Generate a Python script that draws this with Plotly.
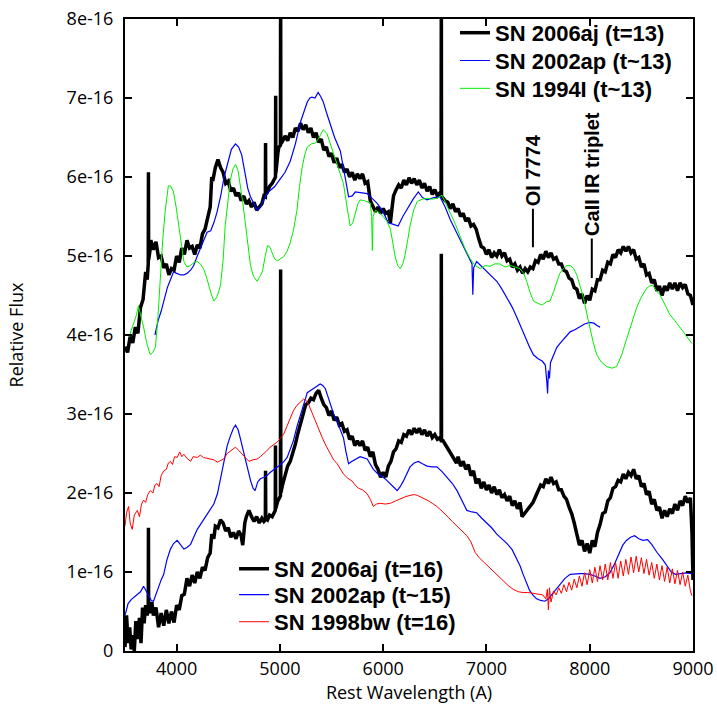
import numpy as np
import plotly.graph_objects as go

SCALE = 1e-16  # flux values below are in units of 1e-16

# ---- SN 2006aj, t=13 (upper black) ----
wave_06aj_13 = [3500, 3525, 3550, 3575, 3600, 3625, 3650, 3675, 3700, 3715,
                3725, 3727, 3729, 3740, 3750, 3775, 3800, 3825, 3850, 3875,
                3900, 3925, 3950, 3975, 4000, 4025, 4050, 4075, 4100, 4125,
                4150, 4175, 4200, 4225, 4250, 4275, 4300, 4325, 4340, 4350,
                4375, 4400, 4425, 4450, 4475, 4500, 4525, 4550, 4575, 4600,
                4625, 4650, 4675, 4700, 4725, 4750, 4775, 4800, 4825, 4845,
                4859, 4861, 4863, 4875, 4900, 4925, 4957, 4959, 4961, 4980,
                4990, 5005, 5007, 5009, 5025, 5050, 5075, 5100, 5125, 5150,
                5175, 5200, 5225, 5250, 5275, 5300, 5325, 5350, 5375, 5400,
                5425, 5450, 5475, 5500, 5525, 5550, 5575, 5600, 5625, 5650,
                5675, 5700, 5725, 5750, 5775, 5800, 5825, 5850, 5875, 5900,
                5925, 5950, 5975, 6000, 6025, 6050, 6070, 6085, 6100, 6125,
                6150, 6175, 6200, 6225, 6250, 6275, 6300, 6325, 6350, 6375,
                6400, 6425, 6450, 6475, 6500, 6525, 6550, 6561, 6563, 6565,
                6575, 6600, 6625, 6650, 6675, 6700, 6725, 6750, 6775, 6800,
                6825, 6850, 6875, 6900, 6925, 6950, 6975, 7000, 7025, 7050,
                7075, 7100, 7125, 7150, 7175, 7200, 7225, 7250, 7275, 7300,
                7325, 7350, 7375, 7400, 7425, 7450, 7475, 7500, 7525, 7550,
                7575, 7600, 7625, 7650, 7675, 7700, 7725, 7750, 7775, 7800,
                7825, 7850, 7875, 7900, 7925, 7950, 7975, 8000, 8025, 8050,
                8075, 8100, 8125, 8150, 8175, 8200, 8225, 8250, 8275, 8300,
                8325, 8350, 8375, 8400, 8425, 8450, 8475, 8500, 8525, 8550,
                8575, 8600, 8625, 8650, 8675, 8700, 8725, 8750, 8775, 8800,
                8825, 8850, 8875, 8900, 8925, 8950, 8975, 9000]
flux_06aj_13 = [3.85, 3.78, 3.98, 3.90, 4.10, 4.02, 4.35, 4.45, 4.80, 4.70,
                4.90, 6.06, 4.95, 5.05, 5.20, 5.08, 5.18, 4.98, 5.00, 4.85,
                4.90, 4.76, 4.84, 4.82, 5.00, 4.92, 5.10, 5.02, 5.20, 5.10,
                5.12, 5.02, 5.14, 5.10, 5.28, 5.34, 5.50, 5.62, 6.00, 5.95,
                6.12, 6.22, 6.12, 6.06, 5.92, 5.95, 5.82, 5.86, 5.76, 5.80,
                5.70, 5.76, 5.66, 5.70, 5.62, 5.68, 5.58, 5.62, 5.66, 5.76,
                5.75, 6.43, 5.78, 5.80, 5.88, 5.92, 6.00, 7.03, 6.05, 6.30,
                6.38, 6.40, 8.60, 6.42, 6.45, 6.52, 6.46, 6.56, 6.50, 6.62,
                6.58, 6.68, 6.60, 6.66, 6.56, 6.62, 6.50, 6.56, 6.44, 6.48,
                6.34, 6.38, 6.26, 6.30, 6.18, 6.24, 6.12, 6.16, 6.06, 6.10,
                6.00, 6.06, 5.96, 6.04, 5.98, 6.04, 5.92, 5.94, 5.70, 5.62,
                5.56, 5.62, 5.54, 5.60, 5.54, 5.56, 5.42, 5.60, 5.76, 5.84,
                5.90, 5.86, 5.96, 5.90, 5.99, 5.92, 5.98, 5.90, 5.96, 5.86,
                5.92, 5.82, 5.88, 5.78, 5.84, 5.76, 5.80, 5.78, 8.60, 5.76,
                5.74, 5.70, 5.68, 5.60, 5.66, 5.56, 5.60, 5.50, 5.54, 5.44,
                5.48, 5.38, 5.40, 5.34, 5.22, 5.12, 5.10, 5.02, 5.08, 4.98,
                5.04, 5.00, 5.08, 5.00, 5.04, 4.94, 4.96, 4.86, 4.90, 4.82,
                4.86, 4.78, 4.84, 4.80, 4.86, 4.84, 4.94, 4.92, 5.02, 4.96,
                5.06, 4.98, 5.04, 4.96, 4.98, 4.90, 4.90, 4.82, 4.80, 4.72,
                4.70, 4.60, 4.58, 4.46, 4.52, 4.40, 4.50, 4.44, 4.58, 4.56,
                4.70, 4.70, 4.82, 4.80, 4.92, 4.90, 5.02, 4.98, 5.08, 5.04,
                5.12, 5.06, 5.12, 5.04, 5.08, 4.96, 4.98, 4.86, 4.90, 4.76,
                4.78, 4.66, 4.70, 4.56, 4.62, 4.50, 4.62, 4.56, 4.66, 4.58,
                4.66, 4.56, 4.66, 4.60, 4.64, 4.52, 4.50, 4.38]

# ---- SN 2006aj, t=16 (lower black) ----
wave_06aj_16 = [3500, 3515, 3530, 3545, 3560, 3575, 3590, 3605, 3620, 3640,
                3655, 3670, 3685, 3700, 3715, 3725, 3727, 3729, 3745, 3760,
                3775, 3800, 3825, 3850, 3875, 3900, 3925, 3950, 3975, 4000,
                4025, 4050, 4075, 4100, 4125, 4150, 4175, 4200, 4225, 4250,
                4275, 4300, 4325, 4340, 4360, 4375, 4400, 4425, 4450, 4475,
                4500, 4525, 4550, 4575, 4600, 4625, 4640, 4660, 4675, 4700,
                4725, 4750, 4775, 4800, 4825, 4845, 4859, 4861, 4863, 4880,
                4900, 4925, 4955, 4957, 4959, 4980, 5005, 5007, 5009, 5025,
                5050, 5075, 5100, 5125, 5150, 5175, 5200, 5225, 5250, 5275,
                5300, 5325, 5350, 5375, 5400, 5425, 5450, 5475, 5500, 5525,
                5550, 5575, 5600, 5625, 5650, 5675, 5700, 5725, 5750, 5775,
                5800, 5825, 5850, 5875, 5900, 5925, 5950, 5975, 6000, 6025,
                6050, 6075, 6100, 6125, 6150, 6175, 6200, 6225, 6250, 6275,
                6300, 6325, 6350, 6375, 6400, 6425, 6450, 6475, 6500, 6525,
                6550, 6561, 6563, 6565, 6580, 6710, 6725, 6750, 6775, 6800,
                6825, 6850, 6875, 6900, 6925, 6950, 6975, 7000, 7025, 7050,
                7075, 7100, 7125, 7150, 7175, 7200, 7225, 7250, 7275, 7300,
                7325, 7345, 7450, 7475, 7500, 7525, 7550, 7575, 7600, 7625,
                7650, 7675, 7700, 7725, 7750, 7775, 7800, 7825, 7850, 7875,
                7900, 7925, 7950, 7975, 8000, 8025, 8050, 8075, 8100, 8125,
                8150, 8175, 8200, 8225, 8250, 8275, 8300, 8325, 8350, 8375,
                8400, 8425, 8450, 8475, 8500, 8525, 8550, 8575, 8600, 8625,
                8650, 8675, 8700, 8725, 8750, 8775, 8800, 8825, 8850, 8875,
                8900, 8925, 8950, 8975, 8990, 9000]
flux_06aj_16 = [0.05, 0.45, 0.10, 0.30, 0.02, 0.20, 0.00, 0.38, 0.15, 0.42,
                0.10, 0.55, 0.35, 0.58, 0.45, 0.55, 1.56, 0.55, 0.48, 0.62,
                0.45, 0.55, 0.30, 0.48, 0.32, 0.52, 0.35, 0.50, 0.36, 0.58,
                0.52, 0.70, 0.72, 0.92, 0.82, 0.96, 0.86, 1.00, 0.92, 1.06,
                1.02, 1.18, 1.24, 1.48, 1.42, 1.58, 1.56, 1.66, 1.62, 1.52,
                1.56, 1.44, 1.50, 1.42, 1.52, 1.46, 1.34, 1.62, 1.70, 1.78,
                1.70, 1.64, 1.70, 1.62, 1.68, 1.64, 1.66, 2.28, 1.68, 1.66,
                1.72, 1.70, 1.78, 2.60, 1.80, 1.90, 1.96, 4.83, 2.00, 2.10,
                2.22, 2.34, 2.40, 2.50, 2.62, 2.76, 2.90, 3.00, 3.12, 3.14,
                3.20, 3.18, 3.26, 3.30, 3.20, 3.12, 3.08, 2.98, 3.04, 2.92,
                2.96, 2.86, 2.88, 2.78, 2.80, 2.68, 2.72, 2.60, 2.66, 2.60,
                2.66, 2.54, 2.58, 2.46, 2.52, 2.36, 2.30, 2.20, 2.26, 2.20,
                2.34, 2.40, 2.52, 2.56, 2.66, 2.64, 2.74, 2.72, 2.80, 2.74,
                2.82, 2.76, 2.82, 2.74, 2.80, 2.72, 2.78, 2.70, 2.74, 2.68,
                2.70, 2.66, 5.03, 2.66, 2.66, 2.38, 2.46, 2.34, 2.40, 2.30,
                2.36, 2.22, 2.28, 2.12, 2.18, 2.06, 2.14, 2.04, 2.10, 2.00,
                2.08, 1.98, 2.04, 1.94, 1.98, 1.90, 1.96, 1.84, 1.90, 1.80,
                1.88, 1.70, 1.88, 1.96, 2.02, 2.10, 2.08, 2.18, 2.12, 2.20,
                2.12, 2.14, 2.04, 2.04, 1.96, 1.92, 1.82, 1.74, 1.62, 1.50,
                1.34, 1.40, 1.26, 1.36, 1.24, 1.40, 1.32, 1.50, 1.60, 1.74,
                1.76, 1.90, 1.94, 2.06, 2.08, 2.16, 2.14, 2.24, 2.18, 2.26,
                2.22, 2.30, 2.18, 2.22, 2.08, 2.12, 1.98, 2.02, 1.86, 1.92,
                1.78, 1.82, 1.68, 1.78, 1.70, 1.80, 1.74, 1.86, 1.78, 1.90,
                1.84, 1.96, 1.88, 1.94, 1.50, 0.90]

# ---- SN 2002ap, t~13 (upper blue) ----
wave_02ap_13 = [3790, 3820, 3850, 3880, 3910, 3940, 3970, 4000, 4040, 4070,
                4100, 4135, 4165, 4200, 4230, 4260, 4295, 4330, 4360, 4390,
                4425, 4460, 4490, 4530, 4570, 4600, 4630, 4665, 4690, 4715,
                4750, 4780, 4810, 4840, 4870, 4905, 4950, 5005, 5050, 5100,
                5150, 5200, 5235, 5265, 5290, 5310, 5340, 5370, 5395, 5420,
                5450, 5490, 5530, 5585, 5620, 5645, 5665, 5700, 5730, 5780,
                5845, 5900, 5940, 5990, 6050, 6100, 6145, 6190, 6245, 6290,
                6340, 6380, 6425, 6490, 6550, 6600, 6650, 6700, 6745, 6790,
                6840, 6860, 6868, 6876, 6905, 6950, 7005, 7050, 7100, 7150,
                7200, 7250, 7295, 7340, 7390, 7420, 7455, 7500, 7540, 7570,
                7585, 7592, 7600, 7610, 7620, 7650, 7680, 7710, 7760, 7810,
                7860, 7905, 7950, 8000, 8040, 8070, 8100]
flux_02ap_13 = [4.00, 4.18, 4.30, 4.45, 4.60, 4.70, 4.80, 4.78, 4.76, 4.76,
                4.78, 4.82, 4.88, 5.00, 5.09, 5.20, 5.30, 5.32, 5.42, 5.55,
                5.75, 6.00, 6.16, 6.35, 6.42, 6.38, 6.28, 6.00, 5.85, 5.75,
                5.66, 5.58, 5.62, 5.71, 5.78, 5.83, 5.88, 5.98, 6.06, 6.20,
                6.42, 6.70, 6.85, 6.95, 7.00, 7.01, 7.00, 7.07, 7.02, 6.95,
                6.82, 6.66, 6.50, 6.33, 6.10, 5.90, 5.75, 5.76, 5.81, 5.80,
                5.79, 5.72, 5.67, 5.58, 5.42, 5.40, 5.38, 5.50, 5.63, 5.72,
                5.81, 5.74, 5.71, 5.74, 5.75, 5.62, 5.46, 5.33, 5.21, 5.10,
                4.97, 4.90, 4.51, 4.85, 4.93, 4.87, 4.80, 4.74, 4.68, 4.58,
                4.47, 4.35, 4.22, 4.08, 3.94, 3.84, 3.75, 3.70, 3.67, 3.62,
                3.40, 3.26, 3.55, 3.45, 3.65, 3.75, 3.84, 3.89, 3.97, 4.04,
                4.07, 4.10, 4.14, 4.16, 4.15, 4.12, 4.10]

# ---- SN 1994I, t~13 (upper green) ----
wave_94I_13 = [3540, 3585, 3610, 3630, 3655, 3680, 3710, 3745, 3770, 3795,
               3820, 3843, 3865, 3890, 3920, 3945, 3970, 3995, 4020, 4045,
               4070, 4100, 4135, 4170, 4200, 4230, 4260, 4285, 4310, 4335,
               4360, 4390, 4425, 4450, 4470, 4495, 4520, 4545, 4570, 4595,
               4615, 4640, 4665, 4690, 4715, 4745, 4780, 4805, 4830, 4855,
               4880, 4900, 4925, 4950, 4975, 5005, 5035, 5070, 5100, 5130,
               5165, 5190, 5215, 5240, 5265, 5305, 5345, 5380, 5420, 5455,
               5490, 5520, 5555, 5585, 5615, 5650, 5680, 5705, 5730, 5755,
               5777, 5820, 5875, 5888, 5895, 5902, 5925, 5960, 6000, 6035,
               6070, 6095, 6115, 6140, 6165, 6190, 6210, 6235, 6260, 6295,
               6330, 6380, 6425, 6470, 6520, 6570, 6610, 6650, 6700, 6745,
               6790, 6840, 6890, 6940, 6990, 7035, 7080, 7130, 7180, 7230,
               7280, 7325, 7360, 7390, 7420, 7455, 7500, 7540, 7580, 7615,
               7650, 7680, 7710, 7745, 7780, 7810, 7845, 7875, 7910, 7940,
               7970, 8000, 8035, 8065, 8110, 8165, 8215, 8260, 8310, 8355,
               8405, 8455, 8500, 8550, 8580, 8610, 8645, 8680, 8730, 8775,
               8825, 8875, 8930, 8990]
flux_94I_13 = [3.98, 4.14, 4.25, 4.37, 4.25, 4.10, 3.90, 3.75, 3.78, 3.85,
               4.25, 4.76, 5.20, 5.58, 5.89, 5.88, 5.81, 5.62, 5.38, 5.12,
               4.93, 4.86, 4.88, 4.92, 4.93, 4.90, 4.84, 4.75, 4.63, 4.52,
               4.43, 4.48, 4.63, 4.95, 5.38, 5.72, 5.96, 6.10, 6.16, 6.08,
               5.92, 5.68, 5.42, 5.12, 4.88, 4.74, 4.68, 4.74, 4.80, 4.98,
               5.13, 5.12, 5.05, 4.96, 4.94, 4.96, 4.99, 5.06, 5.17, 5.32,
               5.58, 5.88, 6.12, 6.28, 6.38, 6.42, 6.43, 6.50, 6.60, 6.55,
               6.41, 6.28, 6.16, 6.05, 5.92, 5.62, 5.38, 5.42, 5.54, 5.66,
               5.71, 5.70, 5.67, 5.50, 5.07, 5.50, 5.58, 5.55, 5.50, 5.44,
               5.34, 5.15, 5.00, 4.88, 4.84, 4.90, 5.00, 5.18, 5.38, 5.58,
               5.69, 5.72, 5.73, 5.72, 5.73, 5.77, 5.66, 5.54, 5.40, 5.25,
               5.10, 4.97, 4.88, 4.84, 4.88, 4.87, 4.90, 4.90, 4.86, 4.88,
               4.86, 4.84, 4.78, 4.68, 4.55, 4.43, 4.40, 4.38, 4.42, 4.43,
               4.55, 4.68, 4.78, 4.84, 4.88, 4.88, 4.84, 4.76, 4.62, 4.47,
               4.28, 4.10, 3.90, 3.76, 3.66, 3.60, 3.58, 3.60, 3.75, 3.94,
               4.15, 4.35, 4.48, 4.59, 4.62, 4.63, 4.56, 4.51, 4.38, 4.26,
               4.18, 4.10, 4.00, 3.89]

# ---- SN 2002ap, t~15 (lower blue) ----
wave_02ap_15 = [3500, 3530, 3560, 3590, 3620, 3650, 3680, 3705, 3730, 3755,
                3776, 3800, 3825, 3850, 3875, 3905, 3940, 3970, 4005, 4040,
                4070, 4100, 4135, 4165, 4200, 4230, 4260, 4290, 4325, 4360,
                4395, 4425, 4455, 4490, 4520, 4550, 4570, 4595, 4615, 4640,
                4665, 4690, 4715, 4740, 4760, 4785, 4810, 4845, 4875, 4905,
                4940, 4975, 5005, 5040, 5070, 5100, 5130, 5165, 5200, 5235,
                5265, 5300, 5330, 5360, 5390, 5415, 5440, 5465, 5490, 5520,
                5555, 5585, 5615, 5640, 5665, 5695, 5730, 5777, 5845, 5905,
                5950, 6000, 6035, 6070, 6105, 6135, 6165, 6195, 6230, 6260,
                6300, 6340, 6380, 6425, 6470, 6520, 6570, 6620, 6670, 6715,
                6760, 6810, 6860, 6905, 6955, 7005, 7050, 7100, 7150, 7200,
                7250, 7295, 7325, 7355, 7390, 7420, 7455, 7485, 7525, 7565,
                7600, 7645, 7680, 7710, 7760, 7810, 7860, 7905, 7950, 8000,
                8050, 8100, 8150, 8195, 8240, 8290, 8320, 8355, 8395, 8435,
                8475, 8515, 8560, 8600, 8650, 8705, 8750, 8790, 8830, 8875,
                8930, 8990]
flux_02ap_15 = [0.45, 0.60, 0.65, 0.68, 0.71, 0.75, 0.82, 0.76, 0.69, 0.64,
                0.63, 0.72, 0.79, 0.90, 0.97, 1.15, 1.29, 1.36, 1.40, 1.34,
                1.29, 1.31, 1.35, 1.44, 1.54, 1.60, 1.66, 1.72, 1.78, 1.86,
                1.99, 2.18, 2.40, 2.60, 2.72, 2.82, 2.86, 2.80, 2.70, 2.56,
                2.40, 2.28, 2.16, 2.06, 2.03, 2.14, 2.18, 2.20, 2.22, 2.26,
                2.30, 2.33, 2.36, 2.40, 2.45, 2.55, 2.66, 2.84, 2.98, 3.14,
                3.27, 3.30, 3.33, 3.36, 3.38, 3.36, 3.32, 3.22, 3.11, 3.00,
                2.90, 2.80, 2.70, 2.52, 2.37, 2.40, 2.43, 2.46, 2.43, 2.30,
                2.24, 2.20, 2.16, 2.12, 2.07, 2.03, 2.08, 2.15, 2.25, 2.33,
                2.38, 2.40, 2.37, 2.34, 2.33, 2.33, 2.27, 2.20, 2.12, 2.03,
                1.92, 1.78, 1.76, 1.75, 1.68, 1.62, 1.56, 1.48, 1.42, 1.36,
                1.28, 1.16, 1.08, 0.97, 0.86, 0.76, 0.70, 0.66, 0.64, 0.63,
                0.66, 0.73, 0.79, 0.84, 0.92, 0.97, 0.98, 0.98, 0.98, 0.97,
                0.95, 0.92, 0.94, 0.99, 1.10, 1.25, 1.34, 1.40, 1.44, 1.46,
                1.42, 1.40, 1.41, 1.35, 1.25, 1.16, 1.08, 1.00, 0.97, 0.98,
                0.99, 0.98]

# ---- SN 1998bw, t=16 (lower red) ----
wave_98bw_16 = [3500, 3515, 3535, 3550, 3570, 3590, 3620, 3640, 3660, 3680,
                3700, 3720, 3745, 3770, 3790, 3810, 3830, 3850, 3875, 3900,
                3920, 3940, 3960, 3980, 4005, 4030, 4050, 4070, 4100, 4135,
                4160, 4200, 4230, 4260, 4290, 4325, 4360, 4395, 4425, 4455,
                4490, 4520, 4545, 4570, 4600, 4635, 4665, 4700, 4740, 4780,
                4810, 4840, 4870, 4905, 4940, 4970, 5005, 5035, 5070, 5100,
                5130, 5165, 5200, 5230, 5255, 5275, 5310, 5345, 5380, 5410,
                5450, 5490, 5520, 5555, 5585, 5615, 5655, 5700, 5730, 5760,
                5800, 5845, 5875, 5905, 5935, 5970, 6020, 6070, 6120, 6165,
                6210, 6260, 6300, 6330, 6380, 6425, 6475, 6520, 6570, 6620,
                6670, 6715, 6760, 6810, 6850, 6870, 6890, 6930, 6970, 7020,
                7065, 7115, 7165, 7210, 7260, 7310, 7355, 7400, 7455, 7500,
                7545, 7575, 7590, 7600, 7610, 7625, 7650, 7675, 7700, 7725,
                7750, 7775, 7800, 7825, 7850, 7875, 7900, 7925, 7950, 7975,
                8000, 8025, 8050, 8075, 8100, 8125, 8150, 8175, 8200, 8225,
                8250, 8275, 8300, 8325, 8350, 8375, 8400, 8425, 8450, 8475,
                8500, 8525, 8550, 8575, 8600, 8625, 8650, 8675, 8700, 8725,
                8750, 8775, 8800, 8825, 8850, 8875, 8900, 8925, 8950, 8975,
                8990]
flux_98bw_16 = [1.58, 1.75, 1.83, 1.62, 1.54, 1.72, 1.78, 1.70, 1.86, 1.91,
                1.88, 1.98, 2.03, 2.00, 2.10, 2.12, 2.08, 2.22, 2.28, 2.30,
                2.38, 2.40, 2.36, 2.46, 2.45, 2.52, 2.46, 2.49, 2.44, 2.40,
                2.46, 2.45, 2.48, 2.45, 2.44, 2.43, 2.42, 2.39, 2.41, 2.43,
                2.50, 2.53, 2.56, 2.58, 2.54, 2.49, 2.44, 2.40, 2.42, 2.43,
                2.46, 2.49, 2.53, 2.58, 2.61, 2.64, 2.69, 2.74, 2.85, 2.95,
                3.04, 3.11, 3.16, 3.19, 3.17, 3.13, 3.02, 2.90, 2.80, 2.70,
                2.59, 2.49, 2.42, 2.37, 2.30, 2.24, 2.19, 2.15, 2.10, 2.06,
                2.04, 1.99, 1.92, 1.83, 1.86, 1.87, 1.86, 1.87, 1.90, 1.93,
                1.95, 1.97, 1.98, 1.97, 1.94, 1.91, 1.87, 1.83, 1.77, 1.71,
                1.64, 1.58, 1.52, 1.46, 1.38, 1.30, 1.25, 1.18, 1.13, 1.06,
                1.00, 0.94, 0.88, 0.83, 0.78, 0.75, 0.74, 0.74, 0.73, 0.72,
                0.71, 0.66, 0.78, 0.52, 0.80, 0.62, 0.76, 0.71, 0.80, 0.73,
                0.84, 0.75, 0.87, 0.77, 0.91, 0.80, 0.95, 0.82, 0.99, 0.84,
                1.03, 0.86, 1.06, 0.88, 1.08, 0.90, 1.10, 0.90, 1.12, 0.92,
                1.12, 0.92, 1.14, 0.95, 1.16, 0.97, 1.19, 0.99, 1.20, 1.00,
                1.18, 0.98, 1.16, 0.96, 1.12, 0.92, 1.10, 0.90, 1.08, 0.88,
                1.06, 0.86, 1.04, 0.85, 1.02, 0.84, 1.00, 0.82, 0.96, 0.76,
                0.70]

# axis ticks
x_ticks = [4000, 5000, 6000, 7000, 8000, 9000]
y_tick_vals = [0, 1, 2, 3, 4, 5, 6, 7, 8]
y_tick_text = ["0", "1e-16", "2e-16", "3e-16", "4e-16", "5e-16", "6e-16", "7e-16", "8e-16"]

BLACK, BLUE, GREEN, RED = "#000000", "#0000ff", "#00ee00", "#ff0000"

# each entry: label, x, y, colour, width, legend id
series = [
    ("SN 2006aj (t=13)", wave_06aj_13, flux_06aj_13, BLACK, 3.5, "legend"),
    ("SN 2006aj (t=16)", wave_06aj_16, flux_06aj_16, BLACK, 3.5, "legend4"),
    ("SN 2002ap (t~13)", wave_02ap_13, flux_02ap_13, BLUE, 1.2, "legend2"),
    ("SN 1994I (t~13)", wave_94I_13, flux_94I_13, GREEN, 1.0, "legend3"),
    ("SN 2002ap (t~15)", wave_02ap_15, flux_02ap_15, BLUE, 1.2, "legend5"),
    ("SN 1998bw (t=16)", wave_98bw_16, flux_98bw_16, RED, 1.0, "legend6"),
]

fig = go.Figure()
for name, w, f, color, width, leg in series:
    fig.add_trace(go.Scatter(
        x=w, y=np.array(f) * SCALE, mode="lines", name=name,
        line=dict(color=color, width=width), legend=leg,
    ))

tick_font = dict(family="Open Sans, DejaVu Sans, sans-serif", size=18, color="#000")
title_font = dict(family="Open Sans, DejaVu Sans, sans-serif", size=18, color="#000")
bold_font = dict(family="Liberation Sans, Arial, sans-serif", size=22, color="#000", weight="bold")


def key_box(x, y):
    return dict(x=x, y=y, xanchor="left", yanchor="middle",
                bgcolor="rgba(0,0,0,0)", font=bold_font, itemwidth=30)


# one legend box per row: upper-right key and lower-left key
fig.update_layout(
    width=717, height=717,
    margin=dict(l=125, r=24, t=13, b=66),
    plot_bgcolor="white", paper_bgcolor="white",
    showlegend=True,
    legend=key_box(0.581, 0.978),
    legend2=key_box(0.581, 0.934),
    legend3=key_box(0.581, 0.890),
    legend4=key_box(0.192, 0.130),
    legend5=key_box(0.192, 0.089),
    legend6=key_box(0.192, 0.046),
)

fig.update_xaxes(
    range=[3500, 9000], tickvals=x_ticks, ticks="inside", ticklen=7,
    tickwidth=1.5, tickcolor="#000", showline=True, linewidth=2,
    linecolor="#000", mirror="ticks", showgrid=False, zeroline=False,
    tickfont=tick_font, ticklabeloverflow="allow", automargin="bottom",
    title=dict(text="Rest Wavelength (A)", font=title_font, standoff=8),
)
fig.update_yaxes(
    range=[0, 8 * SCALE], tickvals=[v * SCALE for v in y_tick_vals],
    ticktext=y_tick_text, ticks="inside", ticklen=7, tickwidth=1.5,
    tickcolor="#000", showline=True, linewidth=2, linecolor="#000",
    mirror="ticks", showgrid=False, zeroline=False, tickfont=tick_font,
    ticklabelstandoff=6, ticklabeloverflow="allow", automargin="left",
    title=dict(text="Relative Flux", font=title_font, standoff=38),
)

# line identifications
ann_font = dict(family="Liberation Sans, Arial, sans-serif", size=20, color="#000", weight="bold")
fig.add_annotation(x=7450, y=5.11 * SCALE, text="OI 7774", textangle=-90,
                   showarrow=True, arrowhead=0, arrowwidth=2, arrowcolor="#000",
                   ax=0, ay=-77, font=ann_font, standoff=0, borderpad=2)
fig.add_annotation(x=8020, y=4.72 * SCALE, text="CaII IR triplet", textangle=-90,
                   showarrow=True, arrowhead=0, arrowwidth=2, arrowcolor="#000",
                   ax=0, ay=-104, font=ann_font, standoff=0, borderpad=2)

fig.write_html("out.html")
